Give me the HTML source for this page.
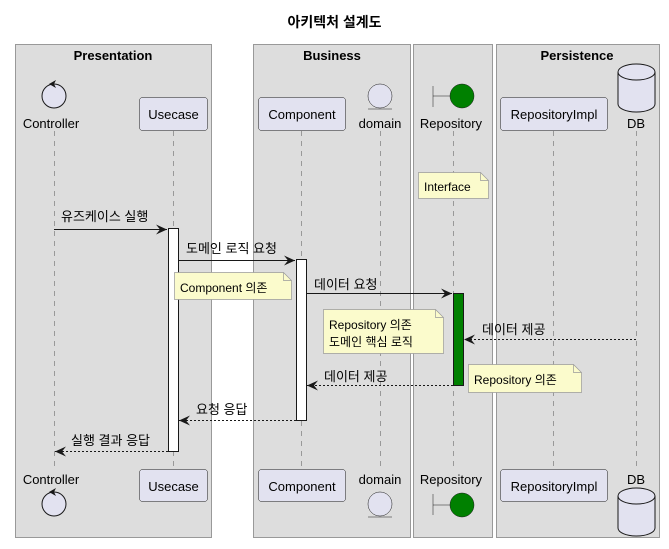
<!DOCTYPE html>
<html><head><meta charset="utf-8"><style>html,body{margin:0;padding:0;background:#fff}svg{display:block}text{font-family:"Liberation Sans","Noto Sans CJK KR",sans-serif;fill:#000}</style></head><body>
<svg width="669" height="549" viewBox="0 0 669 549" xmlns="http://www.w3.org/2000/svg">
<defs>
<marker id="ah" markerWidth="12" markerHeight="10" refX="11" refY="5" orient="auto" markerUnits="userSpaceOnUse"><path d="M0,0 L11,5 L0,10 L4,5 Z" fill="#181818"/></marker>
</defs>
<text x="334.5" y="27" text-anchor="middle" font-size="14" font-weight="bold">아키텍처 설계도</text>
<g fill="#dddddd" stroke="#999" stroke-width="1">
<rect x="15.5" y="44.5" width="196" height="493"/>
<rect x="253.5" y="44.5" width="157" height="493"/>
<rect x="413.5" y="44.5" width="79" height="493"/>
<rect x="496.5" y="44.5" width="163" height="493"/>
</g>
<g font-size="13" font-weight="bold" text-anchor="middle">
<text x="113" y="60">Presentation</text>
<text x="332" y="60">Business</text>
<text x="577" y="60">Persistence</text>
</g>
<g stroke="#999" stroke-dasharray="5,5" stroke-width="1">
<line x1="54.5" y1="131" x2="54.5" y2="468"/>
<line x1="173.5" y1="131" x2="173.5" y2="468"/>
<line x1="301.5" y1="131" x2="301.5" y2="468"/>
<line x1="380.5" y1="131" x2="380.5" y2="468"/>
<line x1="453.5" y1="131" x2="453.5" y2="468"/>
<line x1="553.5" y1="131" x2="553.5" y2="468"/>
<line x1="636.5" y1="131" x2="636.5" y2="468"/>
</g>
<!-- participants -->
<g font-size="13" text-anchor="middle">
<!-- top -->
<circle cx="54" cy="96" r="12" fill="#e2e2f0" stroke="#181818"/>
<path d="M49,84 L56,80 L54,84 L56,88 Z" fill="#181818"/>
<text x="51" y="128">Controller</text>
<rect x="139.5" y="97.5" width="68" height="33" rx="3" fill="#e2e2f0" stroke="#181818" stroke-width="0.5"/>
<text x="173.5" y="119">Usecase</text>
<rect x="258.5" y="97.5" width="87" height="33" rx="3" fill="#e2e2f0" stroke="#181818" stroke-width="0.5"/>
<text x="302" y="119">Component</text>
<circle cx="380" cy="96" r="12" fill="#e2e2f0" stroke="#181818" stroke-width="0.5"/>
<line x1="368" y1="109" x2="392" y2="109" stroke="#181818" stroke-width="0.5"/>
<text x="380" y="128">domain</text>
<line x1="433" y1="86" x2="433" y2="107" stroke="#181818" stroke-width="0.5"/>
<line x1="433" y1="96" x2="450" y2="96" stroke="#181818" stroke-width="0.5"/>
<circle cx="462" cy="96" r="12" fill="#008000" stroke="#181818" stroke-width="0.5"/>
<text x="451" y="128">Repository</text>
<rect x="500.5" y="97.5" width="107" height="33" rx="3" fill="#e2e2f0" stroke="#181818" stroke-width="0.5"/>
<text x="554" y="119">RepositoryImpl</text>
<path d="M618,72 L618,104 A18.5,8 0 0 0 655,104 L655,72" fill="#e2e2f0" stroke="#181818"/>
<ellipse cx="636.5" cy="72" rx="18.5" ry="8" fill="#e2e2f0" stroke="#181818"/>
<text x="636" y="128">DB</text>
<!-- bottom -->
<text x="51" y="484">Controller</text>
<circle cx="54" cy="504" r="12" fill="#e2e2f0" stroke="#181818"/>
<path d="M39,492 L46,488 L44,492 L46,496 Z" transform="translate(10,0)" fill="#181818"/>
<rect x="139.5" y="469.5" width="68" height="32" rx="3" fill="#e2e2f0" stroke="#181818" stroke-width="0.5"/>
<text x="173.5" y="491">Usecase</text>
<rect x="258.5" y="469.5" width="87" height="32" rx="3" fill="#e2e2f0" stroke="#181818" stroke-width="0.5"/>
<text x="302" y="491">Component</text>
<text x="380" y="484">domain</text>
<circle cx="380" cy="504" r="12" fill="#e2e2f0" stroke="#181818" stroke-width="0.5"/>
<line x1="368" y1="517" x2="392" y2="517" stroke="#181818" stroke-width="0.5"/>
<text x="451" y="484">Repository</text>
<line x1="433" y1="494" x2="433" y2="515" stroke="#181818" stroke-width="0.5"/>
<line x1="433" y1="505" x2="450" y2="505" stroke="#181818" stroke-width="0.5"/>
<circle cx="462" cy="505" r="12" fill="#008000" stroke="#181818" stroke-width="0.5"/>
<rect x="500.5" y="469.5" width="107" height="32" rx="3" fill="#e2e2f0" stroke="#181818" stroke-width="0.5"/>
<text x="554" y="491">RepositoryImpl</text>
<text x="636" y="484">DB</text>
<path d="M618,496 L618,528 A18.5,8 0 0 0 655,528 L655,496" fill="#e2e2f0" stroke="#181818"/>
<ellipse cx="636.5" cy="496" rx="18.5" ry="8" fill="#e2e2f0" stroke="#181818"/>
</g>
<!-- activations -->
<rect x="168.5" y="228.5" width="10" height="223" fill="#fff" stroke="#181818"/>
<rect x="296.5" y="259.5" width="10" height="161" fill="#fff" stroke="#181818"/>
<rect x="453.5" y="293.5" width="10" height="92" fill="#008000" stroke="#181818"/>
<!-- notes -->
<g stroke="#999" stroke-width="0.7" fill="#fbfbcc">
<path d="M418.5,172.5 H480.5 L488.5,180.5 V198.5 H418.5 Z"/>
<path d="M174.5,272.5 H283.5 L291.5,280.5 V299.5 H174.5 Z"/>
<path d="M323.5,309.5 H435.5 L443.5,317.5 V353.5 H323.5 Z"/>
<path d="M468.5,364.5 H573.5 L581.5,372.5 V392.5 H468.5 Z"/>
</g>
<g stroke="#999" stroke-width="0.7" fill="none">
<path d="M480.5,172.5 V180.5 H488.5"/>
<path d="M283.5,272.5 V280.5 H291.5"/>
<path d="M435.5,309.5 V317.5 H443.5"/>
<path d="M573.5,364.5 V372.5 H581.5"/>
</g>
<g font-size="12">
<text x="424" y="191">Interface</text>
<text x="180" y="292">Component 의존</text>
<text x="329" y="329">Repository 의존</text>
<text x="329" y="346">도메인 핵심 로직</text>
<text x="474" y="384">Repository 의존</text>
</g>
<!-- messages -->
<g stroke="#181818" stroke-width="1" marker-end="url(#ah)">
<line x1="54" y1="229.5" x2="167" y2="229.5"/>
<line x1="178" y1="260.5" x2="295" y2="260.5"/>
<line x1="306" y1="293.5" x2="452" y2="293.5"/>
</g>
<g stroke="#181818" stroke-width="1" stroke-dasharray="2,2" marker-end="url(#ah)">
<line x1="636" y1="339.5" x2="464" y2="339.5"/>
<line x1="453" y1="385.5" x2="307" y2="385.5"/>
<line x1="296" y1="420.5" x2="179" y2="420.5"/>
<line x1="168" y1="451.5" x2="55" y2="451.5"/>
</g>
<g font-size="13">
<text x="61" y="221">유즈케이스 실행</text>
<text x="186" y="253">도메인 로직 요청</text>
<text x="314" y="289">데이터 요청</text>
<text x="482" y="334">데이터 제공</text>
<text x="324" y="381">데이터 제공</text>
<text x="196" y="414">요청 응답</text>
<text x="71" y="445">실행 결과 응답</text>
</g>
</svg>
</body></html>
